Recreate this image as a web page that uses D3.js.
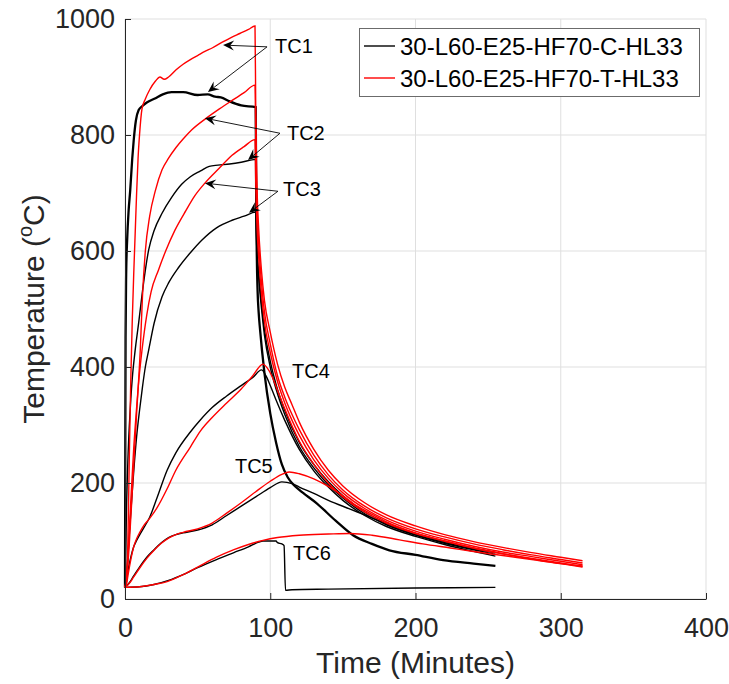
<!DOCTYPE html>
<html>
<head>
<meta charset="utf-8">
<script src="https://cdn.jsdelivr.net/npm/d3@7"></script>
<style>
  body { margin: 0; background: #fff; }
  svg text { font-family: "Liberation Sans", Arial, sans-serif; }
</style>
</head>
<body>
<div id="chart-area"></div>
<script>
// Temperature vs time, C (black) and T (red) specimens, thermocouples TC1..TC6
const xTicks = [0, 100, 200, 300, 400]
const yTicks = [0, 200, 400, 600, 800, 1000]
const legendLabels = ["30-L60-E25-HF70-C-HL33", "30-L60-E25-HF70-T-HL33"]

// [time (min), temperature (C)]
const c_tc1 = [[0,20],[0.2,250],[0.4,450],[0.8,560],[1.5,620],[2.5,670],[3.6,705],[5,760],[6,791],[7.5,825],[9.4,843],[12,850],[15,856],[20.6,863],[26,870],[32,874],[40,874],[50,869],[57,870],[62,866],[66,865],[72,858],[80,851],[90,848],
  [90.3,700],[90.7,600],[91.3,530],[92,495],[93,464],[96,390],[100,320],[104,270],[108,232],[112,210],[116,197],[120,188],[132,165],[145,135],[157,110],[170,95],[182,84],[200,76],[219,67],[240,61],[255,57]]
const c_tc2 = [[0,20],[0.5,80],[1,150],[2,240],[3,300],[4,345],[5,380],[7,429],[9.4,476],[12,530],[16.3,602],[20,635],[25.5,665],[32,692],[39,715],[45,728],[52,738],[58,746],[64,748],[72,750],[80,753],[90,758],
  [90.4,650],[91,600],[92,565],[94,510],[96,465],[100,410],[104,370],[110,325],[120,270],[130,232],[140,202],[150,178],[165,150],[180,131],[200,113],[220,99],[240,87],[255,80]]
const c_tc3 = [[0,20],[1,40],[2,75],[4,150],[6,220],[8,280],[10,325],[12,365],[14,400],[16.3,429],[20,475],[25.5,521],[30,545],[37,572],[45,597],[53,619],[63,640],[73.7,653],[82,660],[90,667],
  [90.5,620],[91,590],[92,555],[94,500],[96,455],[100,400],[104,362],[110,318],[120,263],[130,226],[140,197],[150,174],[165,147],[180,128],[200,110],[220,96],[240,85],[255,77]]
const c_tc4 = [[0,20],[1,30],[2,48],[4,72],[6,90],[8,101],[10,110],[13,123],[17,141],[22,174],[29,222],[35,252],[45,288],[52,309],[60,330],[70,350],[80,368],[88,382],[94,395],
  [97,385],[100,368],[104,343],[110,308],[120,258],[130,221],[140,193],[150,170],[165,144],[180,125],[200,108],[220,94],[240,82],[255,74]]
const c_tc5 = [[0,20],[3,28],[6,40],[10,55],[15,72],[20,85],[25,97],[30,106],[35,111],[40,114],[50,119],[60,128],[70,144],[80,160],[90,176],[100,192],[108,202],[115,199],[120,193],[130,182],[140,170],[155,155],[165,145],[180,130],[200,111],[220,97],[240,87],[255,80]]
const c_tc6 = [[0,20],[10,21],[20,25],[30,32],[40,42],[50,54],[63,68],[75,80],[85,90],[92,98],[95,100],[104,100],[105,97],[108,95],[109.5,92],[110.5,15],[115,16],[140,17],[200,19],[255,20]]

const r_tc1 = [[0,20],[1,30],[2,100],[3,250],[4,380],[5,480],[6,560],[7,630],[8,700],[9,760],[10,800],[11.7,845],[14,862],[17,878],[21,893],[24,900],[27,896],[30,900],[35,912],[40,922],[45,930],[50,937],[55,944],[60,950],[67,960],[73,968],[79,975],[85,982],[89.5,988],
  [90,850],[90.5,760],[91,700],[92,640],[94,565],[96,515],[100,460],[105,405],[110,365],[115,335],[120,305],[130,258],[140,222],[150,195],[165,166],[180,145],[200,126],[220,111],[240,99],[260,89],[280,80],[300,72],[315,66]]
const r_tc2 = [[0,20],[2,60],[4,140],[6,230],[8,320],[10.5,429],[12,520],[14,600],[17,660],[21,705],[25.5,740],[30,760],[35,778],[40,793],[46,809],[56,829],[65,845],[74,860],[82,873],[89.5,886],
  [90,800],[90.5,720],[91,670],[92,615],[94,545],[96,495],[100,440],[105,385],[110,348],[115,318],[120,292],[130,248],[140,214],[150,188],[165,160],[180,140],[200,121],[220,107],[240,95],[260,85],[280,76],[300,68],[315,62]]
const r_tc3 = [[0,20],[1,35],[2,70],[4,170],[6,260],[8,330],[10,390],[11.7,429],[15,490],[18,530],[23,567],[28,600],[34.4,636],[42,670],[48,695],[55,717],[65,743],[73.7,765],[82,780],[89.5,792],
  [90,720],[90.5,670],[91,635],[92,590],[94,525],[96,478],[100,425],[105,375],[110,338],[115,308],[120,282],[130,240],[140,208],[150,183],[165,156],[180,136],[200,117],[220,103],[240,91],[260,81],[280,73],[300,65],[315,59]]
const r_tc4 = [[0,20],[1,25],[2,40],[4,68],[6,90],[8,104],[10,114],[13,127],[17,139],[22,157],[29,190],[35,222],[45,262],[52,290],[60,313],[70,338],[80,362],[88,385],[95,405],
  [98,398],[101,385],[105,360],[110,328],[120,272],[130,232],[140,200],[150,176],[165,150],[180,131],[200,113],[220,100],[240,88],[260,78],[280,70],[300,62],[315,56]]
const r_tc5 = [[0,20],[3,27],[6,38],[10,53],[15,70],[20,84],[25,96],[30,105],[35,111],[40,115],[50,121],[60,131],[70,148],[80,166],[90,185],[100,203],[108,215],[113,219],[120,216],[130,207],[140,194],[150,178],[160,160],[170,146],[180,133],[200,114],[220,100],[240,88],[260,78],[280,69],[300,61],[315,55]]
const r_tc6 = [[0,20],[10,21],[20,25],[29,30],[40,42],[50,55],[63,72],[75,85],[85,94],[95,101],[105,106],[120,110],[140,112],[155,113],[170,110],[189,102],[205,95],[224,88],[240,82],[260,75],[280,68],[300,61],[315,57]]

// TC labels: text anchor [t, T], arrow start, arrow heads
const tcLabels = [
  { name: "TC1", at: [103.3, 941], from: [97.8, 952], to: [[67.5, 955], [57.1, 874]] },
  { name: "TC2", at: [111.5, 791], from: [106.7, 803], to: [[55, 829], [84.7, 757]] },
  { name: "TC3", at: [108.8, 695], from: [105.3, 703], to: [[55, 717], [85.4, 666]] },
  { name: "TC4", at: [115, 381] },
  { name: "TC5", at: [75.7, 217] },
  { name: "TC6", at: [115.7, 67] }
]

const MARGIN = { LEFT: 125, RIGHT: 23, TOP: 19, BOTTOM: 85 }
const W = 729, H = 684
const AXC = "#262626"

const svg = d3.select("#chart-area").append("svg")
  .attr("width", W).attr("height", H)

const x = d3.scaleLinear().domain([0, 400]).range([MARGIN.LEFT, W - MARGIN.RIGHT])
const y = d3.scaleLinear().domain([0, 1000]).range([H - MARGIN.BOTTOM, MARGIN.TOP])

// grid
svg.append("g").selectAll("line").data(xTicks).join("line")
  .attr("x1", d => x(d)).attr("x2", d => x(d))
  .attr("y1", y(0)).attr("y2", y(1000))
  .attr("stroke", "#dfdfdf").attr("stroke-width", 1)
svg.append("g").selectAll("line").data(yTicks).join("line")
  .attr("x1", x(0)).attr("x2", x(400))
  .attr("y1", d => y(d)).attr("y2", d => y(d))
  .attr("stroke", "#dfdfdf").attr("stroke-width", 1)

// curves
const line = d3.line().x(d => x(d[0])).y(d => y(d[1])).curve(d3.curveMonotoneX)
const blacks = [c_tc2, c_tc3, c_tc4, c_tc5, c_tc6]
const reds = [r_tc1, r_tc2, r_tc3, r_tc4, r_tc5, r_tc6]

svg.append("g").selectAll("path").data(blacks).join("path")
  .attr("d", line).attr("fill", "none").attr("stroke", "#000").attr("stroke-width", 1.4)
svg.append("path").attr("d", line(c_tc1)).attr("fill", "none")
  .attr("stroke", "#000").attr("stroke-width", 2.3)
svg.append("g").selectAll("path").data(reds).join("path")
  .attr("d", line).attr("fill", "none").attr("stroke", "#ff0000").attr("stroke-width", 1.4)

// axes
const yAxis = svg.append("g")
  .attr("transform", `translate(${x(0)},0)`)
  .call(d3.axisLeft(y).tickValues(yTicks).tickFormat(d3.format("d"))
    .tickSizeInner(-6).tickSizeOuter(0).tickPadding(10))
const xAxis = svg.append("g")
  .attr("transform", `translate(0,${y(0)})`)
  .call(d3.axisBottom(x).tickValues(xTicks).tickFormat(d3.format("d"))
    .tickSizeInner(-6).tickSizeOuter(0).tickPadding(19))
;[xAxis, yAxis].forEach(a => {
  a.select(".domain").attr("stroke", AXC)
  a.selectAll(".tick line").attr("stroke", AXC)
  a.selectAll(".tick text").attr("fill", AXC).attr("font-size", 27)
    .attr("font-family", "'Liberation Sans', Arial, sans-serif")
})

// axis titles
svg.append("text").attr("x", (x(0) + x(400)) / 2).attr("y", 673)
  .attr("text-anchor", "middle").attr("font-size", 30).attr("fill", AXC)
  .text("Time (Minutes)")
const yt = svg.append("text")
  .attr("transform", `translate(44,${(y(0) + y(1000)) / 2}) rotate(-90)`)
  .attr("text-anchor", "middle").attr("font-size", 30).attr("fill", AXC)
yt.append("tspan").text("Temperature (")
yt.append("tspan").attr("font-size", 20).attr("dy", -12).text("o")
yt.append("tspan").attr("dy", 12).text("C)")

// TC labels and arrows
const ann = svg.append("g")
tcLabels.forEach(l => {
  ann.append("text").attr("x", x(l.at[0])).attr("y", y(l.at[1]))
    .attr("font-size", 20).attr("fill", "#000").text(l.name)
  if (!l.to) return
  l.to.forEach(t => {
    const x0 = x(l.from[0]), y0 = y(l.from[1]), x1 = x(t[0]), y1 = y(t[1])
    const a = Math.atan2(y1 - y0, x1 - x0)
    const ca = Math.cos(a), sa = Math.sin(a)
    const L = 11, Wd = 5, N = 7
    ann.append("line").attr("x1", x0).attr("y1", y0)
      .attr("x2", x1 - ca * N).attr("y2", y1 - sa * N)
      .attr("stroke", "#000").attr("stroke-width", 0.9)
    const p = [
      [x1, y1],
      [x1 - ca * L - sa * Wd, y1 - sa * L + ca * Wd],
      [x1 - ca * N, y1 - sa * N],
      [x1 - ca * L + sa * Wd, y1 - sa * L - ca * Wd]
    ]
    ann.append("path").attr("d", "M" + p.join("L") + "Z").attr("fill", "#000")
  })
})

// legend
const lg = svg.append("g")
lg.append("rect").attr("x", 359.5).attr("y", 28.5).attr("width", 340).attr("height", 68)
  .attr("fill", "#fff").attr("stroke", "#6b6b6b").attr("stroke-width", 1)
const legColors = ["#000", "#ff0000"]
legendLabels.forEach((s, i) => {
  const cy = 46 + i * 32
  lg.append("line").attr("x1", 364).attr("x2", 395).attr("y1", cy).attr("y2", cy)
    .attr("stroke", legColors[i]).attr("stroke-width", 1.4)
  lg.append("text").attr("x", 400).attr("y", cy).attr("dy", "0.36em")
    .attr("font-size", 24).attr("fill", "#000").text(s)
})
</script>
</body>
</html>
